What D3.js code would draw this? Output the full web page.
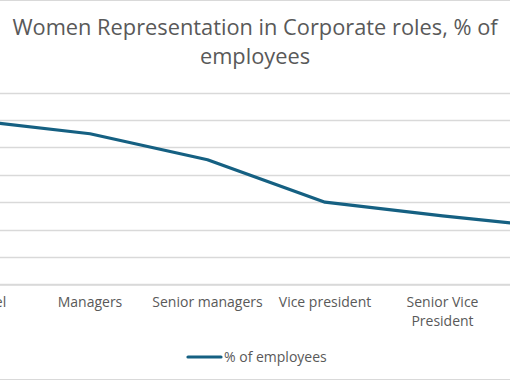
<!DOCTYPE html>
<html>
<head>
<meta charset="utf-8">
<script src="https://cdn.jsdelivr.net/npm/d3@7/dist/d3.min.js"></script>
<style>
  html, body { margin: 0; padding: 0; background: #fff; overflow: hidden; }
  svg { display: block; }
</style>
</head>
<body>
<svg id="chart" width="510" height="382"></svg>
<script>
const categories = ["Entry level", "Managers", "Senior managers", "Vice president", "Senior Vice President", "C-suite"];
const values = [60, 55, 45.5, 30, 25, 20.5];
const yTicks = [0, 10, 20, 30, 40, 50, 60, 70];
const seriesName = "% of employees";
const titleLines = ["Women Representation in Corporate roles, % of", "employees"];

const W = 510, H = 382;
const svg = d3.select("#chart");
const textColor = "#595959";
const lineColor = "#156082";
const gridColor = "#d9d9d9";
const font = "'Open Sans', 'Noto Sans', sans-serif";
const labelSize = 14;

// chart border (left/right outside view)
svg.append("rect").attr("x", -200).attr("y", 0.5).attr("width", W + 400).attr("height", H - 3)
  .attr("fill", "#fff").attr("stroke", "#d9d9d9").attr("stroke-width", 1);

// title
svg.append("g").selectAll("text").data(titleLines).join("text")
  .attr("x", W / 2).attr("y", (d, i) => 35 + i * 29)
  .attr("text-anchor", "middle")
  .attr("font-family", font).attr("font-size", 21.8)
  .attr("fill", textColor).text(d => d);

const plotTop = 92.7, plotBottom = 284.3;
const x = d3.scaleBand().domain(categories).range([-86.25, 618.75]);
const y = d3.scaleLinear().domain([0, 70]).range([plotBottom, plotTop]);

// gridlines
svg.append("g").selectAll("line").data(yTicks).join("line")
  .attr("x1", -86).attr("x2", 619)
  .attr("y1", d => Math.round(y(d)) + 0.5).attr("y2", d => Math.round(y(d)) + 0.5)
  .attr("stroke", gridColor).attr("stroke-width", 1.3);

// x axis
const xAxis = svg.append("g").attr("transform", `translate(0,${Math.round(plotBottom) + 0.5})`)
  .call(d3.axisBottom(x).tickSize(0).tickPadding(13));
xAxis.select(".domain").attr("stroke", gridColor).attr("stroke-width", 1.3);
xAxis.selectAll("text").attr("font-family", font).attr("font-size", labelSize).attr("fill", textColor)
  .each(function(d) {
    const t = d3.select(this);
    const words = d.split(" ");
    const maxW = 120;
    t.text(null);
    let lines = [], cur = [];
    const probe = svg.append("text").attr("font-family", font).attr("font-size", labelSize);
    words.forEach(w => {
      const test = cur.concat([w]).join(" ");
      probe.text(test);
      if (probe.node().getComputedTextLength() > maxW && cur.length) { lines.push(cur.join(" ")); cur = [w]; }
      else cur.push(w);
    });
    lines.push(cur.join(" "));
    probe.remove();
    lines.forEach((l, i) => {
      t.append("tspan").attr("x", 0).attr("dy", i === 0 ? "0.71em" : "1.35em").text(l);
    });
  });

// line
const line = d3.line().x((d, i) => x(categories[i]) + x.bandwidth() / 2).y(d => y(d));
svg.append("path").datum(values)
  .attr("fill", "none").attr("stroke", lineColor).attr("stroke-width", 3.2)
  .attr("stroke-linejoin", "round").attr("stroke-linecap", "round")
  .attr("d", line);

// legend
const lg = svg.append("g").attr("transform", "translate(188,357)");
lg.append("line").attr("x1", 0).attr("x2", 33).attr("y1", 0).attr("y2", 0)
  .attr("stroke", lineColor).attr("stroke-width", 3.2).attr("stroke-linecap", "round");
lg.append("text").attr("x", 36).attr("y", 0).attr("dy", "0.35em")
  .attr("font-family", font).attr("font-size", labelSize).attr("fill", textColor).text(seriesName);
</script>
</body>
</html>
